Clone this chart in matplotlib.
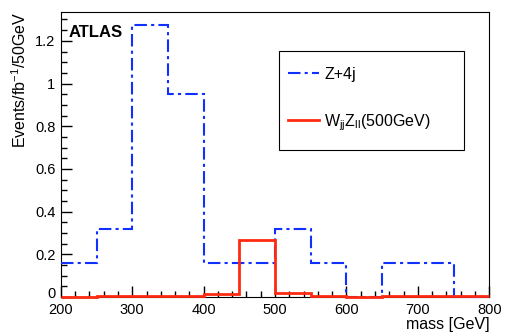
import numpy as np
import matplotlib.pyplot as plt
import matplotlib.transforms as mtransforms
from matplotlib.ticker import MultipleLocator
from matplotlib.patches import Rectangle

plt.rcParams['font.family'] = ['Liberation Sans', 'DejaVu Sans']
plt.rcParams['mathtext.fontset'] = 'custom'
plt.rcParams['mathtext.rm'] = 'Liberation Sans'
plt.rcParams['mathtext.it'] = 'Liberation Sans'

edges = np.arange(200, 801, 50)
z4j = np.array([0.158, 0.317, 1.274, 0.951, 0.158, 0.158, 0.317, 0.158, 0.0, 0.158, 0.158, 0.0])
wz = np.array([0.0, 0.005, 0.005, 0.003, 0.012, 0.266, 0.02, 0.005, 0.0, 0.005, 0.003, 0.002])

fig = plt.figure(figsize=(5.07, 3.34), dpi=100)
ax = fig.add_axes([0.120, 0.111, 0.845, 0.853])

ax.stairs(z4j, edges, baseline=None, color='#1030ff', lw=1.5,
          linestyle=(0, (6, 2, 1.5, 2)), label='Z+4j', zorder=3, clip_on=False)
ax.stairs(wz, edges, baseline=None, color='#ff2a10', lw=2,
          label=r'W$_{\rm jj}$Z$_{\rm ll}$(500GeV)', zorder=4, clip_on=False)

ax.set_xlim(200, 800)
ax.set_ylim(0, 1.335)
ax.xaxis.set_major_locator(MultipleLocator(100))
ax.xaxis.set_minor_locator(MultipleLocator(20))
ax.yaxis.set_minor_locator(MultipleLocator(0.05))
ax.set_yticks([0, 0.2, 0.4, 0.6, 0.8, 1.0, 1.2])
ax.set_yticklabels(['0', '0.2', '0.4', '0.6', '0.8', '1', '1.2'])
ax.tick_params(which='major', direction='in', length=8, labelsize=10.5, width=1)
ax.tick_params(which='minor', direction='in', length=4, width=1)
ax.tick_params(axis='x', pad=4.5)
ax.tick_params(axis='y', pad=4)

# nudge the "0" label up a little so it does not touch "200"
lab0 = ax.get_yticklabels()[0]
lab0.set_transform(lab0.get_transform() + mtransforms.ScaledTranslation(0, 3 / 72, fig.dpi_scale_trans))

ax.set_xlabel('mass [GeV]', fontsize=11.5, loc='right', labelpad=0)
ax.set_ylabel(r'Events/fb$^{-1}$/50GeV', fontsize=11.5, loc='top', labelpad=4)

ax.text(0.018, 0.955, 'ATLAS', transform=ax.transAxes, fontsize=12, fontweight='bold',
        va='top', ha='left')

# legend box drawn by hand to match the spacing
ax.add_patch(Rectangle((0.509, 0.516), 0.432, 0.348, transform=ax.transAxes,
                       fill=False, edgecolor='black', lw=0.8, zorder=5))
leg = ax.legend(loc='upper left', bbox_to_anchor=(0.509, 0.842), frameon=False,
                fontsize=11.5, handlelength=1.9, labelspacing=1.9,
                borderpad=0.6, handletextpad=0.35, borderaxespad=0)

plt.savefig('out.png', dpi=100)
